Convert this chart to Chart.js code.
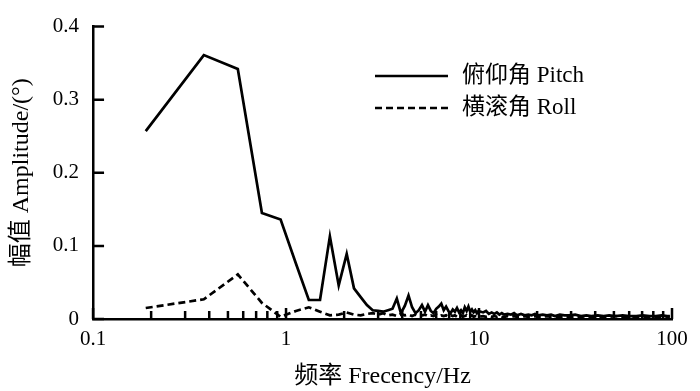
<!DOCTYPE html>
<html lang="zh-CN">
<head>
  <meta charset="UTF-8" />
  <title>幅值 - 频率</title>
  <script src="https://cdn.jsdelivr.net/npm/chart.js"></script>
  <style>
    * { margin: 0; padding: 0; box-sizing: border-box; }
    body { background: #fff; width: 700px; height: 391px; overflow: hidden; }
    #wrap { position: relative; width: 700px; height: 391px; }
  </style>
</head>
<body>
  <div id="wrap"><canvas id="grafico"></canvas></div>

<script>
  // frequency bins (Hz)
  const freqs = [
    0.1875, 0.375, 0.5625, 0.75, 0.9375, 1.125, 1.3125, 1.5, 1.6875, 1.875,
    2.0625, 2.25, 2.4375, 2.625, 2.8125, 3.0, 3.1875, 3.375, 3.5625, 3.75,
    3.9375, 4.125, 4.3125, 4.5, 4.6875, 4.875, 5.0625, 5.25, 5.4375, 5.625,
    5.8125, 6.0, 6.1875, 6.375, 6.5625, 6.75, 6.9375, 7.125, 7.3125, 7.5,
    7.6875, 7.875, 8.0625, 8.25, 8.4375, 8.625, 8.8125, 9.0, 9.1875, 9.375,
    9.5625, 9.75, 9.9375, 10.5, 10.875, 11.25, 11.625, 12.0, 12.375, 12.75,
    13.125, 13.5, 14.0625, 14.625, 15.1875, 15.75, 16.5, 17.25, 18.0, 18.75,
    19.5, 20.25, 21.375, 22.5, 23.625, 24.75, 26.25, 27.75, 29.25, 31.5,
    33.75, 36.0, 38.25, 41.25, 44.25, 47.25, 51.0, 55.5, 60.0, 65.25,
    70.5, 76.5, 82.5, 88.5, 94.5, 97.5
  ];

  // 俯仰角 Pitch amplitude (°)
  const pitch = [
    0.257, 0.361, 0.342, 0.145, 0.136, 0.076, 0.026, 0.026, 0.113, 0.046,
    0.089, 0.042, 0.030, 0.019, 0.012, 0.011, 0.010, 0.012, 0.014, 0.028,
    0.008, 0.018, 0.032, 0.016, 0.008, 0.012, 0.019, 0.010, 0.019, 0.011,
    0.008, 0.014, 0.017, 0.021, 0.012, 0.017, 0.011, 0.008, 0.013, 0.010,
    0.015, 0.009, 0.012, 0.008, 0.016, 0.011, 0.017, 0.010, 0.013, 0.009,
    0.012, 0.008, 0.011, 0.009, 0.011, 0.007, 0.009, 0.007, 0.009, 0.006,
    0.008, 0.006, 0.007, 0.006, 0.008, 0.005, 0.007, 0.005, 0.006, 0.005,
    0.007, 0.005, 0.006, 0.005, 0.006, 0.004, 0.006, 0.005, 0.005, 0.006,
    0.004, 0.005, 0.004, 0.005, 0.004, 0.005, 0.004, 0.005, 0.004, 0.004,
    0.005, 0.004, 0.004, 0.005, 0.004, 0.004
  ];

  // 横滚角 Roll amplitude (°)
  const roll = [
    0.015, 0.027, 0.061, 0.022, 0.003, 0.011, 0.016, 0.010, 0.005, 0.006,
    0.009, 0.006, 0.005, 0.007, 0.008, 0.006, 0.008, 0.005, 0.006, 0.004,
    0.007, 0.005, 0.006, 0.004, 0.006, 0.004, 0.005, 0.006, 0.004, 0.005,
    0.004, 0.006, 0.004, 0.005, 0.004, 0.005, 0.003, 0.005, 0.004, 0.005,
    0.003, 0.004, 0.005, 0.003, 0.004, 0.005, 0.003, 0.004, 0.005, 0.003,
    0.004, 0.004, 0.003, 0.004, 0.003, 0.004, 0.003, 0.004, 0.003, 0.004,
    0.003, 0.003, 0.004, 0.003, 0.004, 0.003, 0.003, 0.004, 0.003, 0.003,
    0.004, 0.003, 0.003, 0.004, 0.003, 0.003, 0.003, 0.004, 0.003, 0.003,
    0.003, 0.004, 0.003, 0.003, 0.003, 0.003, 0.004, 0.003, 0.003, 0.003,
    0.003, 0.003, 0.003, 0.003, 0.003, 0.003
  ];

  const xTicks = [0.1, 1, 10, 100];
  const xMinorTicks = [
    0.2, 0.3, 0.4, 0.5, 0.6, 0.7, 0.8, 0.9,
    2, 3, 4, 5, 6, 7, 8, 9,
    20, 30, 40, 50, 60, 70, 80, 90
  ];
  const yTicks = [0, 0.1, 0.2, 0.3, 0.4];

  const serif = "'Liberation Serif', 'Noto Sans CJK SC', serif";

  function pontos(ys) {
    return freqs.map((f, i) => ({ x: f, y: ys[i] }));
  }

  // inward ticks + legend drawn on the canvas
  const extras = {
    id: "extras",
    afterDraw(chart) {
      const ctx = chart.ctx;
      const area = chart.chartArea;
      const sx = chart.scales.x;
      const sy = chart.scales.y;
      ctx.save();
      ctx.strokeStyle = "#000";
      ctx.lineWidth = 2.5;
      ctx.beginPath();
      yTicks.forEach(v => {
        const py = sy.getPixelForValue(v);
        ctx.moveTo(area.left, py);
        ctx.lineTo(area.left + 11, py);
      });
      xTicks.forEach(v => {
        const px = sx.getPixelForValue(v);
        ctx.moveTo(px, area.bottom);
        ctx.lineTo(px, area.bottom - 11);
      });
      xMinorTicks.forEach(v => {
        const px = sx.getPixelForValue(v);
        ctx.moveTo(px, area.bottom);
        ctx.lineTo(px, area.bottom - 8);
      });
      ctx.stroke();

      // legend
      const lx = 375, lw = 73;
      const rows = [
        { y: 76, dash: [], text: "俯仰角 Pitch" },
        { y: 108, dash: [7, 4], text: "横滚角 Roll" }
      ];
      ctx.font = "23px " + serif;
      ctx.fillStyle = "#000";
      ctx.textBaseline = "middle";
      ctx.lineWidth = 2.7;
      rows.forEach(r => {
        ctx.setLineDash(r.dash);
        ctx.beginPath();
        ctx.moveTo(lx, r.y);
        ctx.lineTo(lx + lw, r.y);
        ctx.stroke();
        ctx.fillText(r.text, 462, r.y);
      });
      ctx.restore();
    }
  };

  new Chart(document.getElementById("grafico"), {
    type: "line",
    data: {
      datasets: [
        {
          label: "俯仰角 Pitch",
          data: pontos(pitch),
          borderColor: "#000",
          borderWidth: 2.7,
          pointRadius: 0,
          tension: 0,
          fill: false
        },
        {
          label: "横滚角 Roll",
          data: pontos(roll),
          borderColor: "#000",
          borderWidth: 2.7,
          borderDash: [7, 4],
          pointRadius: 0,
          tension: 0,
          fill: false
        }
      ]
    },
    options: {
      responsive: true,
      maintainAspectRatio: false,
      animation: false,
      layout: { padding: { left: 4, right: 28, top: 11, bottom: 0 } },
      plugins: {
        legend: { display: false },
        tooltip: { enabled: false }
      },
      scales: {
        x: {
          type: "logarithmic",
          min: 0.1,
          max: 100,
          afterBuildTicks(scale) {
            scale.ticks = xTicks.map(v => ({ value: v, major: true }));
          },
          grid: { display: false, drawTicks: false },
          border: { display: true, color: "#000", width: 2.5 },
          ticks: {
            color: "#000",
            font: { family: serif, size: 21 },
            padding: 8,
            maxRotation: 0,
            autoSkip: false,
            callback: v => String(v)
          },
          title: {
            display: true,
            text: "频率 Frecency/Hz",
            color: "#000",
            font: { family: serif, size: 24 },
            padding: { top: 2, bottom: 0 }
          }
        },
        y: {
          min: 0,
          max: 0.4,
          afterBuildTicks(scale) {
            scale.ticks = yTicks.map(v => ({ value: v }));
          },
          grid: { display: false, drawTicks: false },
          border: { display: true, color: "#000", width: 2.5 },
          ticks: {
            color: "#000",
            font: { family: serif, size: 21 },
            padding: 14,
            callback: v => String(v)
          },
          title: {
            display: true,
            text: "幅值 Amplitude/(°)",
            color: "#000",
            font: { family: serif, size: 24 },
            padding: { top: 3, bottom: 3 }
          }
        }
      }
    },
    plugins: [extras]
  });
</script>
</body>
</html>
